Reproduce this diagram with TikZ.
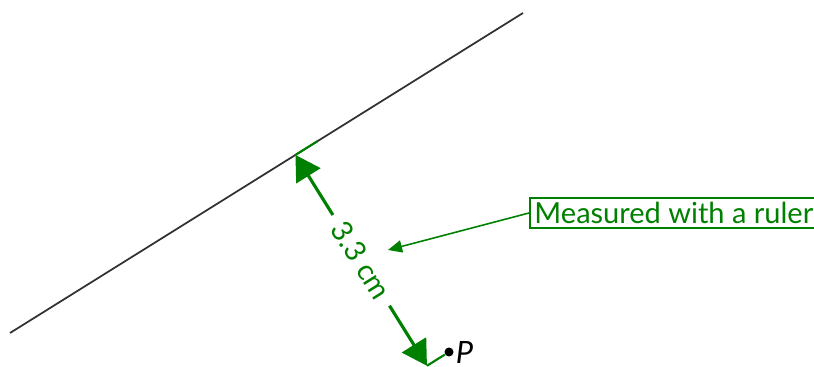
\documentclass[tikz,border=0pt]{standalone}
\usepackage{fontspec}
\setmainfont{Lato}
\usepackage{xcolor}
\usetikzlibrary{calc,arrows.meta}
\definecolor{rulegreen}{RGB}{0,128,0}
\definecolor{linegray}{RGB}{50,50,50}

\begin{document}
\begin{tikzpicture}[x=0.02cm, y=-0.02cm,
  lbl/.style={text=rulegreen, font=\fontsize{16.5}{19}\selectfont},
  note/.style={lbl, draw=rulegreen, line width=1.2pt, inner sep=2.5pt, anchor=west},
  dimarrow/.style={{Triangle[length=14pt,width=16pt]}-{Triangle[length=14pt,width=16pt]}, rulegreen, line width=1.8pt},
  ext/.style={rulegreen, line width=1.2pt},
  arrow/.style={-{Triangle[length=8pt,width=7pt]}, rulegreen, line width=0.9pt}]
  \useasboundingbox (0,0) rectangle (814,367);
  % the line and the point
  \coordinate (s) at (10,333);
  \coordinate (e) at (523,13);
  \draw[linegray, line width=1pt] (s) -- (e);
  \node[circle, fill=black, inner sep=0pt, minimum size=0.18cm] (P) at (449,352) {};
  \node[font=\fontsize{17.5}{20}\selectfont\itshape, anchor=west, inner sep=1pt] (Plbl) at (P.east) {P};
  % dimension, shifted along the line
  \coordinate (ft) at ($(s)!(P)!(e)$);
  \coordinate (d1) at ($(ft)!0.52cm!(s)$);
  \coordinate (d2) at ($(P)+(d1)-(ft)$);
  \draw[ext] (ft) -- (d1);
  \draw[ext] (P) -- (d2);
  \draw[dimarrow] (d1) -- node[lbl, sloped, fill=white, inner sep=6pt] (len) {3.3 cm} (d2);
  % callout
  \node[note] (rule) at (529,213) {Measured with a ruler};
  \coordinate (tgt) at (388,250);
  \draw[arrow] (rule.west) -- (tgt);
\end{tikzpicture}
\end{document}
